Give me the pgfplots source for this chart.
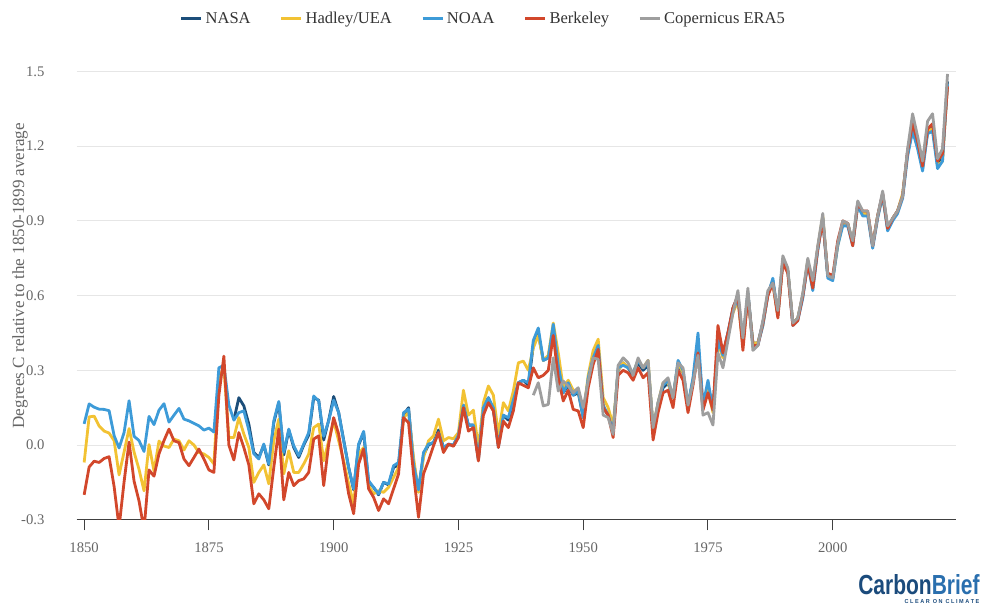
\documentclass[border=0pt]{standalone}
\usepackage{fontspec}
\setmainfont{Liberation Serif}
\newfontfamily\logofont{Liberation Sans}
\usepackage{pgfplots}
\pgfplotsset{compat=1.18}
\usepackage{pgfplotstable}

\definecolor{nasa}{HTML}{1C4E7A}
\definecolor{hadley}{HTML}{F2C233}
\definecolor{noaa}{HTML}{3D9BD8}
\definecolor{berk}{HTML}{D2472B}
\definecolor{era}{HTML}{9E9E9E}
\definecolor{gridc}{HTML}{E6E6E6}
\definecolor{tickc}{HTML}{666666}
\definecolor{legc}{HTML}{333333}
\definecolor{cbdark}{HTML}{1B4B7C}
\definecolor{cblight}{HTML}{2A6FAE}

\pgfplotstableread{
year nasa hadley noaa berkeley era5
1850 nan -0.070 0.085 -0.200 nan
1851 nan 0.113 0.165 -0.088 nan
1852 nan 0.116 0.152 -0.065 nan
1853 nan 0.076 0.144 -0.070 nan
1854 nan 0.056 0.143 -0.054 nan
1855 nan 0.048 0.138 -0.047 nan
1856 nan 0.018 0.038 -0.166 nan
1857 nan -0.120 -0.012 -0.330 nan
1858 nan -0.028 0.050 -0.148 nan
1859 nan 0.066 0.178 0.012 nan
1860 nan -0.028 0.035 -0.145 nan
1861 nan -0.098 0.018 -0.225 nan
1862 nan -0.184 -0.026 -0.340 nan
1863 nan 0.002 0.115 -0.100 nan
1864 nan -0.105 0.082 -0.125 nan
1865 nan 0.016 0.140 -0.035 nan
1866 nan -0.004 0.166 0.018 nan
1867 nan -0.010 0.092 0.064 nan
1868 nan 0.024 0.120 0.017 nan
1869 nan 0.017 0.147 0.010 nan
1870 nan -0.020 0.104 -0.056 nan
1871 nan 0.017 0.097 -0.083 nan
1872 nan 0.000 0.087 -0.050 nan
1873 nan -0.030 0.077 -0.016 nan
1874 nan -0.036 0.060 -0.056 nan
1875 nan -0.050 0.068 -0.100 nan
1876 nan -0.076 0.052 -0.110 nan
1877 nan 0.270 0.310 0.200 nan
1878 nan 0.310 0.320 0.357 nan
1879 nan 0.030 0.160 0.000 nan
1880 0.100 0.030 0.100 -0.060 nan
1881 0.190 0.110 0.130 0.050 nan
1882 0.157 0.044 0.137 -0.010 nan
1883 0.084 -0.010 0.060 -0.080 nan
1884 -0.030 -0.150 -0.035 -0.236 nan
1885 -0.050 -0.110 -0.056 -0.196 nan
1886 0.000 -0.080 0.004 -0.220 nan
1887 -0.080 -0.156 -0.076 -0.256 nan
1888 0.090 0.017 0.097 -0.090 nan
1889 0.170 0.104 0.175 0.064 nan
1890 -0.040 -0.116 -0.030 -0.220 nan
1891 0.060 -0.023 0.064 -0.110 nan
1892 -0.010 -0.110 -0.003 -0.163 nan
1893 -0.050 -0.110 -0.043 -0.143 nan
1894 0.000 -0.076 0.004 -0.136 nan
1895 0.040 -0.036 0.050 -0.110 nan
1896 0.190 0.070 0.197 0.024 nan
1897 0.180 0.084 0.177 0.037 nan
1898 0.020 -0.063 0.035 -0.163 nan
1899 0.100 0.017 0.097 0.004 nan
1900 0.195 0.097 0.180 0.110 nan
1901 0.130 0.017 0.130 0.044 nan
1902 0.020 -0.063 0.017 -0.076 nan
1903 -0.090 -0.156 -0.090 -0.196 nan
1904 -0.180 -0.236 -0.176 -0.276 nan
1905 0.000 -0.036 0.004 -0.076 nan
1906 0.050 -0.010 0.055 -0.016 nan
1907 -0.150 -0.163 -0.143 -0.176 nan
1908 -0.170 -0.196 -0.170 -0.210 nan
1909 -0.200 -0.183 -0.196 -0.263 nan
1910 -0.150 -0.190 -0.150 -0.216 nan
1911 -0.160 -0.170 -0.156 -0.236 nan
1912 -0.090 -0.130 -0.083 -0.176 nan
1913 -0.080 -0.090 -0.070 -0.116 nan
1914 0.120 0.110 0.130 0.110 nan
1915 0.150 0.130 0.144 0.090 nan
1916 -0.070 -0.050 -0.076 -0.116 nan
1917 -0.180 -0.190 -0.180 -0.290 nan
1918 -0.040 -0.050 -0.030 -0.116 nan
1919 0.000 0.017 0.004 -0.063 nan
1920 0.010 0.037 0.010 -0.003 nan
1921 0.060 0.104 0.050 0.050 nan
1922 -0.010 0.017 -0.010 -0.030 nan
1923 0.000 0.030 0.004 0.004 nan
1924 0.000 0.025 0.000 -0.005 nan
1925 0.040 0.050 0.040 0.030 nan
1926 0.160 0.220 0.160 0.150 nan
1927 0.080 0.120 0.080 0.056 nan
1928 0.080 0.140 0.080 0.070 nan
1929 -0.060 -0.010 -0.050 -0.064 nan
1930 0.150 0.170 0.150 0.120 nan
1931 0.190 0.237 0.190 0.170 nan
1932 0.140 0.200 0.150 0.137 nan
1933 0.000 0.043 -0.010 -0.010 nan
1934 0.120 0.170 0.120 0.096 nan
1935 0.100 0.137 0.110 0.070 nan
1936 0.170 0.217 0.180 0.137 nan
1937 0.250 0.330 0.250 0.250 nan
1938 0.260 0.337 0.260 0.240 nan
1939 0.240 0.300 0.250 0.230 nan
1940 0.400 0.390 0.420 0.310 0.200
1941 0.450 0.440 0.470 0.270 0.250
1942 0.340 0.340 0.340 0.280 0.157
1943 0.350 0.360 0.350 0.300 0.163
1944 0.470 0.490 0.485 0.440 0.350
1945 0.330 0.370 0.320 0.270 0.217
1946 0.210 0.230 0.210 0.177 0.257
1947 0.240 0.260 0.250 0.220 0.237
1948 0.200 0.220 0.200 0.143 0.210
1949 0.210 0.220 0.220 0.137 0.230
1950 0.110 0.120 0.110 0.070 0.150
1951 0.260 0.280 0.270 0.230 0.257
1952 0.340 0.380 0.350 0.324 0.350
1953 0.390 0.425 0.400 0.384 0.344
1954 0.150 0.190 0.160 0.150 0.120
1955 0.120 0.150 0.120 0.120 0.110
1956 0.050 0.080 0.056 0.030 0.043
1957 0.300 0.300 0.310 0.280 0.320
1958 0.330 0.330 0.320 0.300 0.350
1959 0.310 0.310 0.310 0.290 0.330
1960 0.280 0.290 0.290 0.260 0.280
1961 0.330 0.340 0.340 0.310 0.350
1962 0.300 0.310 0.310 0.270 0.310
1963 0.320 0.340 0.330 0.290 0.340
1964 0.060 0.070 0.060 0.020 0.070
1965 0.160 0.170 0.170 0.130 0.170
1966 0.230 0.250 0.240 0.210 0.250
1967 0.250 0.250 0.260 0.220 0.270
1968 0.190 0.190 0.190 0.150 0.190
1969 0.320 0.330 0.340 0.300 0.330
1970 0.290 0.290 0.300 0.260 0.310
1971 0.160 0.150 0.160 0.130 0.160
1972 0.260 0.260 0.270 0.240 0.250
1973 0.410 0.400 0.450 0.370 0.360
1974 0.150 0.150 0.160 0.140 0.120
1975 0.240 0.220 0.260 0.210 0.130
1976 0.140 0.130 0.140 0.140 0.080
1977 0.420 0.410 0.420 0.480 0.370
1978 0.360 0.350 0.360 0.370 0.310
1979 0.450 0.440 0.450 0.450 0.420
1980 0.550 0.530 0.540 0.550 0.530
1981 0.600 0.580 0.590 0.600 0.620
1982 0.410 0.400 0.410 0.380 0.430
1983 0.610 0.600 0.610 0.600 0.630
1984 0.410 0.410 0.400 0.400 0.380
1985 0.410 0.410 0.400 0.400 0.400
1986 0.490 0.480 0.480 0.490 0.500
1987 0.610 0.610 0.600 0.600 0.620
1988 0.660 0.650 0.670 0.650 0.650
1989 0.520 0.520 0.520 0.510 0.540
1990 0.740 0.740 0.740 0.730 0.760
1991 0.700 0.700 0.700 0.690 0.710
1992 0.490 0.490 0.480 0.480 0.490
1993 0.510 0.510 0.500 0.500 0.510
1994 0.600 0.600 0.590 0.600 0.610
1995 0.740 0.740 0.730 0.730 0.750
1996 0.640 0.630 0.620 0.630 0.660
1997 0.790 0.790 0.780 0.790 0.800
1998 0.910 0.920 0.910 0.900 0.930
1999 0.680 0.680 0.670 0.690 0.680
2000 0.670 0.670 0.660 0.680 0.670
2001 0.810 0.800 0.800 0.820 0.810
2002 0.890 0.890 0.880 0.900 0.900
2003 0.890 0.890 0.880 0.890 0.890
2004 0.810 0.810 0.800 0.800 0.820
2005 0.970 0.960 0.960 0.970 0.980
2006 0.930 0.930 0.920 0.940 0.940
2007 0.930 0.930 0.920 0.940 0.940
2008 0.800 0.800 0.790 0.800 0.800
2009 0.920 0.920 0.910 0.920 0.920
2010 1.010 1.000 1.000 1.010 1.020
2011 0.870 0.870 0.860 0.870 0.880
2012 0.910 0.910 0.900 0.910 0.910
2013 0.940 0.940 0.930 0.940 0.940
2014 1.000 1.010 0.990 1.000 1.000
2015 1.180 1.170 1.160 1.180 1.190
2016 1.290 1.270 1.260 1.290 1.330
2017 1.220 1.200 1.190 1.220 1.240
2018 1.120 1.110 1.100 1.120 1.140
2019 1.260 1.260 1.250 1.270 1.300
2020 1.280 1.270 1.260 1.290 1.330
2021 1.130 1.120 1.110 1.140 1.150
2022 1.160 1.140 1.140 1.170 1.190
2023 1.460 1.450 1.450 1.440 1.490
}\data

\begin{document}
\begin{tikzpicture}
\useasboundingbox (-57.5pt,-69pt) rectangle (680.5pt,389.8pt);
\begin{axis}[
  at={(0pt,0pt)}, anchor=south west,
  scale only axis, width=659.5pt, height=341.8pt,
  xmin=1848.5, xmax=2024.7, ymin=-0.3, ymax=1.53,
  xtick={1850,1875,1900,1925,1950,1975,2000},
  ytick={-0.3,0,0.3,0.6,0.9,1.2,1.5},
  axis x line*=bottom, axis y line*=left,
  y axis line style={draw=none},
  x axis line style={-, draw=black!75, line width=0.75pt},
  xtick style={draw=black!75, line width=0.75pt},
  ytick style={draw=none},
  tick align=outside, major tick length=8pt,
  ymajorgrids, grid style={gridc, line width=0.75pt},
  /pgf/number format/assume math mode=true,
  xticklabel style={/pgf/number format/1000 sep={}, font=\fontsize{11}{13}\selectfont, text=tickc, anchor=north, inner sep=0pt, yshift=-9pt},
  yticklabel style={/pgf/number format/fixed, /pgf/number format/fixed zerofill, /pgf/number format/precision=1, font=\fontsize{11}{13}\selectfont, text=tickc, anchor=east, inner sep=0pt, xshift=-16pt},
  legend columns=5,
  legend style={draw=none, fill=none, at={(0.463,1)}, anchor=center, yshift=34pt,
    font=\fontsize{12.4}{14}\selectfont, text=legc,
    /tikz/every even column/.append style={column sep=20pt}},
  legend cell align=left,
  legend image code/.code={\draw[#1, line width=2.2pt] (0pt,0pt) -- (15pt,0pt);},
  clip=true,
]
\addplot[nasa, line width=2.1pt, line join=round] table[x=year, y=nasa]{\data};
\addplot[hadley, line width=2.1pt, line join=round] table[x=year, y=hadley]{\data};
\addplot[noaa, line width=2.1pt, line join=round] table[x=year, y=noaa]{\data};
\addplot[berk, line width=2.1pt, line join=round] table[x=year, y=berkeley]{\data};
\addplot[era, line width=2.1pt, line join=round] table[x=year, y=era5]{\data};
\legend{NASA, Hadley/UEA, NOAA, Berkeley, Copernicus ERA5}
\end{axis}
\node[rotate=90, text=tickc, font=\fontsize{12.8}{15}\selectfont] at (-42.5pt,183pt) {Degrees C relative to the 1850-1899 average};
\node[inner sep=0pt] at (631.7pt,-48.5pt) {\resizebox{91pt}{15pt}{\logofont\bfseries\textcolor{cbdark}{Carbon}\textcolor{cblight}{Brief}}};
\node[inner sep=0pt] at (649pt,-61.5pt) {\resizebox{56pt}{3pt}{\logofont\bfseries\textcolor{cbdark}{C L E A R\ \ O N\ \ C L I M A T E}}};
\end{tikzpicture}
\end{document}
